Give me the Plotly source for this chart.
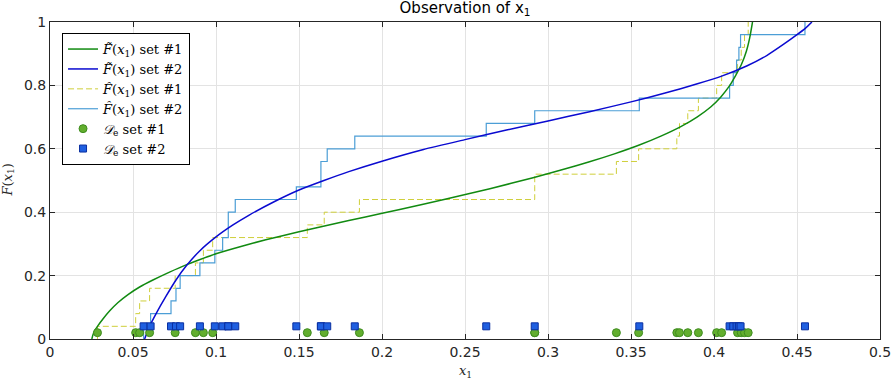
import plotly.graph_objects as go

# ---------------- data ----------------
# observed samples, set #1 (green circles) and set #2 (blue squares)
set1_x = [0.0286, 0.0516, 0.0540, 0.0600, 0.0754, 0.0876, 0.0924, 0.0980,
          0.1550, 0.1652, 0.1864, 0.2920, 0.2920, 0.3412, 0.3546, 0.3776,
          0.3792, 0.3842, 0.3906, 0.4016, 0.4046, 0.4142, 0.4164, 0.4184,
          0.4206]
set2_x = [0.0564, 0.0606, 0.0729, 0.0759, 0.0784, 0.0903, 0.0993, 0.1040,
          0.1074, 0.1074, 0.1116, 0.1484, 0.1632, 0.1632, 0.1670, 0.1836,
          0.2628, 0.2920, 0.3550, 0.4094, 0.4116, 0.4136, 0.4150, 0.4160,
          0.4548]
set1_marker_level = 0.02
set2_marker_level = 0.04

# fitted CDF curves
fit1_x = [0.0252, 0.0258, 0.0270, 0.0290, 0.0320, 0.0360, 0.0410, 0.0470,
          0.0540, 0.0620, 0.0720, 0.0820, 0.0900, 0.1000, 0.1150, 0.1300,
          0.1500, 0.1700, 0.1900, 0.2100, 0.2380, 0.2650, 0.2910, 0.3100,
          0.3250, 0.3400, 0.3550, 0.3680, 0.3800, 0.3900, 0.3980, 0.4040,
          0.4090, 0.4130, 0.4165, 0.4195, 0.4215, 0.4232]
fit1_y = [0.000, 0.012, 0.027, 0.043, 0.064, 0.089, 0.115, 0.140,
          0.164, 0.186, 0.211, 0.234, 0.250, 0.269, 0.292, 0.313,
          0.338, 0.362, 0.385, 0.408, 0.441, 0.474, 0.509, 0.536,
          0.559, 0.584, 0.612, 0.640, 0.670, 0.701, 0.732, 0.763,
          0.796, 0.831, 0.866, 0.908, 0.950, 1.000]

fit2_x = [0.0570, 0.0600, 0.0640, 0.0700, 0.0760, 0.0820, 0.0900, 0.1000,
          0.1100, 0.1200, 0.1350, 0.1500, 0.1650, 0.1800, 0.2000, 0.2250,
          0.2500, 0.2750, 0.3000, 0.3250, 0.3500, 0.3700, 0.3900, 0.4050,
          0.4200, 0.4320, 0.4420, 0.4500, 0.4550, 0.4590]
fit2_y = [0.000, 0.040, 0.081, 0.136, 0.187, 0.230, 0.277, 0.322,
          0.359, 0.391, 0.433, 0.470, 0.500, 0.528, 0.561, 0.598,
          0.629, 0.659, 0.688, 0.717, 0.748, 0.775, 0.805, 0.830,
          0.862, 0.895, 0.930, 0.960, 0.980, 1.000]

x_ticks = [0, 0.05, 0.1, 0.15, 0.2, 0.25, 0.3, 0.35, 0.4, 0.45, 0.5]
x_tick_labels = ["0", "0.05", "0.1", "0.15", "0.2", "0.25", "0.3", "0.35",
                 "0.4", "0.45", "0.5"]
y_ticks = [0, 0.2, 0.4, 0.6, 0.8, 1]
y_tick_labels = ["0", "0.2", "0.4", "0.6", "0.8", "1"]


def ecdf(samples):
    s = sorted(samples)
    n = len(s)
    xs = [s[0]] + s
    ys = [0.0] + [(i + 1) / n for i in range(n)]
    return xs, ys


e1x, e1y = ecdf(set1_x)
e2x, e2y = ecdf(set2_x)

SERIF = "DejaVu Serif, Liberation Serif, serif"
SANS = "DejaVu Sans, sans-serif"
AX = "#262626"

fig = go.Figure()

fig.add_trace(go.Scatter(
    x=e1x, y=e1y, mode="lines", line_shape="hv",
    line=dict(color="#CFCF3A", width=1, dash="6px,3px"),
    name="<i>F̂</i>(<i>x</i><sub>1</sub>) set #1", legendrank=3))
fig.add_trace(go.Scatter(
    x=e2x, y=e2y, mode="lines", line_shape="hv",
    line=dict(color="#4C9ED6", width=1.2),
    name="<i>F̂</i>(<i>x</i><sub>1</sub>) set #2", legendrank=4))
fig.add_trace(go.Scatter(
    x=fit1_x, y=fit1_y, mode="lines", line_shape="spline",
    line=dict(color="#118A11", width=1.5, smoothing=0.6),
    name="<i>F̃</i>(<i>x</i><sub>1</sub>) set #1", legendrank=1))
fig.add_trace(go.Scatter(
    x=fit2_x, y=fit2_y, mode="lines", line_shape="spline",
    line=dict(color="#0A0AD0", width=1.5, smoothing=0.6),
    name="<i>F̃</i>(<i>x</i><sub>1</sub>) set #2", legendrank=2))
fig.add_trace(go.Scatter(
    x=set1_x, y=[set1_marker_level] * len(set1_x), mode="markers",
    marker=dict(symbol="circle", size=8, color="#62AE2E",
                line=dict(color="#3E8C1E", width=1)),
    name="<i>𝒟</i><sub>e</sub> set #1", legendrank=5))
fig.add_trace(go.Scatter(
    x=set2_x, y=[set2_marker_level] * len(set2_x), mode="markers",
    marker=dict(symbol="square", size=7, color="#1F5FE0",
                line=dict(color="#0A2FA0", width=1)),
    name="<i>𝒟</i><sub>e</sub> set #2", legendrank=6))

fig.update_layout(
    width=892, height=382,
    margin=dict(l=50, r=12, t=22, b=43),
    plot_bgcolor="white", paper_bgcolor="white",
    title=dict(text="Observation of x<sub>1</sub>", x=0.5, xref="paper",
               y=1 - 8 / 382, yref="container", yanchor="middle",
               font=dict(family=SANS, size=15, color="#000000")),
    showlegend=True,
    legend=dict(x=0.0145, y=0.965, xanchor="left", yanchor="top",
                bgcolor="white", bordercolor="#000000", borderwidth=1,
                font=dict(family=SERIF, size=13, color="#000000"),
                tracegroupgap=0),
    xaxis=dict(range=[0, 0.5], tickvals=x_ticks, ticktext=x_tick_labels,
               automargin=False,
               showgrid=True, gridcolor="#E3E3E3", zeroline=False,
               showline=True, linecolor=AX, linewidth=1, mirror="ticks",
               ticks="inside", ticklen=5, tickcolor=AX,
               tickfont=dict(family=SANS, size=14, color=AX)),
    yaxis=dict(range=[0, 1], tickvals=y_ticks, ticktext=y_tick_labels,
               automargin=False,
               showgrid=True, gridcolor="#E3E3E3", zeroline=False,
               showline=True, linecolor=AX, linewidth=1, mirror="ticks",
               ticks="inside", ticklen=5, tickcolor=AX,
               tickfont=dict(family=SANS, size=14, color=AX)),
    annotations=[
        dict(text="<i>x</i><sub>1</sub>", x=0.5, y=-0.104, xref="paper",
             yref="paper", showarrow=False, xanchor="center",
             yanchor="middle",
             font=dict(family=SERIF, size=13, color=AX)),
        dict(text="<i>F</i>(<i>x</i><sub>1</sub>)", x=-0.0506, y=0.5,
             xref="paper", yref="paper", showarrow=False, textangle=-90,
             xanchor="center", yanchor="middle",
             font=dict(family=SERIF, size=13, color=AX)),
    ],
)

fig.write_html("out.html")
